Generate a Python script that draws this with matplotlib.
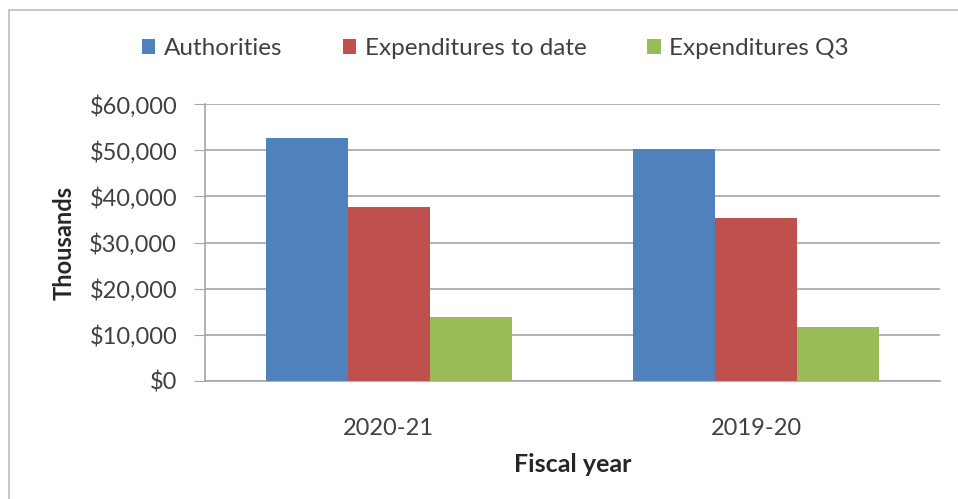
import numpy as np
import matplotlib.pyplot as plt
from matplotlib.patches import Rectangle
from matplotlib.ticker import FuncFormatter

plt.rcParams['font.family'] = ['Lato', 'DejaVu Sans']

years = ["2020-21", "2019-20"]
series = ["Authorities", "Expenditures to date", "Expenditures Q3"]
authorities = [52700, 50200]
exp_to_date = [37700, 35300]
exp_q3 = [13900, 11800]
colors = ["#4F81BD", "#C0504D", "#9BBB59"]

fig = plt.figure(figsize=(9.58, 4.99), dpi=100)
ax = fig.add_axes([0.214, 0.2365, 0.767, 0.555])

# outer chart border
fig.patches.append(Rectangle((0.009, -0.01), 1.0, 0.99, transform=fig.transFigure,
                             fill=False, edgecolor="#BFBFBF", linewidth=1.2))

x = np.arange(len(years))
w = 0.223
for i, (vals, name) in enumerate(zip([authorities, exp_to_date, exp_q3], series)):
    ax.bar(x + (i - 1) * w, vals, width=w, color=colors[i], label=name, zorder=3)

ax.set_xlim(-0.5, 1.5)
ax.set_ylim(0, 60000)
ax.set_yticks(range(0, 60001, 10000))
ax.yaxis.set_major_formatter(FuncFormatter(lambda v, p: f"${v:,.0f}"))
ax.set_xticks(x)
ax.set_xticklabels(years)
ax.grid(axis="y", color="#A6A6A6", linewidth=1.2, zorder=0)

for s in ["top", "right"]:
    ax.spines[s].set_visible(False)
for s in ["left", "bottom"]:
    ax.spines[s].set_color("#A6A6A6")
    ax.spines[s].set_linewidth(1.2)

ax.tick_params(axis="y", length=8, color="#A6A6A6", labelsize=17, labelcolor="#404040", pad=12)
ax.tick_params(axis="x", length=0, labelsize=17, labelcolor="#404040", pad=27)

ax.set_ylabel("Thousands", fontsize=17, fontweight="bold", color="#262626", labelpad=10)
ax.set_xlabel("Fiscal year", fontsize=18, fontweight="bold", color="#262626", labelpad=10)

ax.legend(loc="center", bbox_to_anchor=(0.395, 1.2), ncol=3, frameon=False,
          fontsize=17.5, handlelength=0.55, handleheight=0.55, handletextpad=0.35,
          columnspacing=2.5, labelcolor="#404040")

fig.savefig("out.png", dpi=100)
